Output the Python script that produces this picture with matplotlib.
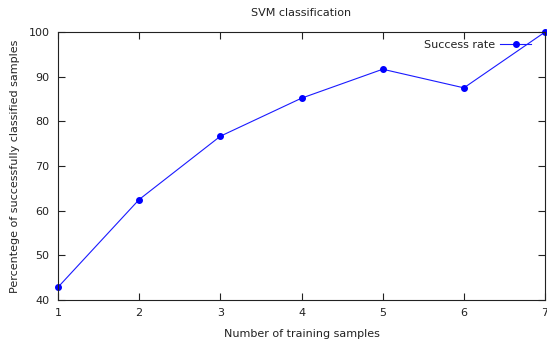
import matplotlib
matplotlib.use('Agg')
import matplotlib.pyplot as plt

samples = [1, 2, 3, 4, 5, 6, 7]
success = [42.86, 62.5, 76.67, 85.19, 91.67, 87.5, 100.0]
xticks = [1, 2, 3, 4, 5, 6, 7]
yticks = [40, 50, 60, 70, 80, 90, 100]

plt.rcParams['font.family'] = 'DejaVu Sans'
plt.rcParams['font.size'] = 8

fig = plt.figure(figsize=(5.47, 3.45), dpi=100)
ax = fig.add_axes([0.106, 0.1304, 0.8905, 0.7768])

ax.plot(samples, success, color='#1a1aff', lw=0.8, marker='o', markersize=4,
        markerfacecolor='#0000ff', markeredgecolor='#0000ff', label='Success rate',
        clip_on=False)

ax.set_xlim(1, 7)
ax.set_ylim(40, 100)
ax.set_xticks(xticks)
ax.set_yticks(yticks)
ax.tick_params(direction='in', top=True, right=True, length=5, width=0.8,
               colors='#222222', labelcolor='#222222', pad=6)
for s in ax.spines.values():
    s.set_color('#222222')
    s.set_linewidth(0.8)

ax.set_title('SVM classification', fontsize=8, pad=11.5, color='#222222')
ax.set_xlabel('Number of training samples', labelpad=8, color='#222222')
ax.set_ylabel('Percentege of successfully classified samples', labelpad=6, color='#222222')

ax.legend(loc='upper right', frameon=False, markerfirst=False, handlelength=2.8,
          handletextpad=0.4, borderaxespad=0.2,
          bbox_to_anchor=(0.985, 0.995), labelcolor='#222222')

fig.savefig('out.png', dpi=100)
